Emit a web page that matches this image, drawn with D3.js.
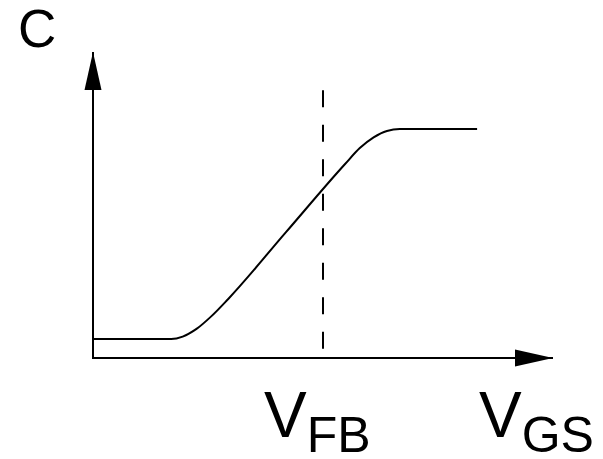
<!DOCTYPE html>
<html>
<head>
<meta charset="utf-8">
<script src="https://cdn.jsdelivr.net/npm/d3@7"></script>
<style>
  body { margin: 0; background: #fff; }
  svg text { font-family: "Liberation Sans", Arial, sans-serif; fill: #000; }
</style>
</head>
<body>
<div id="chart"></div>
<script>
// curve points (arbitrary units)
var vgs = [0, 1.70, 1.95, 2.25, 2.57, 2.94, 4.20, 5.48, 5.80, 6.10, 6.39, 6.67, 8.35];
var cap = [0.62, 0.62, 0.70, 0.95, 1.36, 1.93, 4.12, 6.34, 6.86, 7.21, 7.42, 7.48, 7.48];
var vfb = 5;
var dashRange = [0.3, 8.75];
var yLabel = "C";
var xLabel = ["V", "GS"];
var vfbLabel = ["V", "FB"];

var width = 603, height = 459;

var svg = d3.select("#chart")
  .append("svg")
  .attr("width", width)
  .attr("height", height);

var x = d3.scaleLinear().domain([0, 10]).range([93, 553]);
var y = d3.scaleLinear().domain([0, 10]).range([358, 52]);

// axes with arrow heads
var arrowLen = 38, arrowHalf = 8.5;
svg.append("line")
  .attr("x1", x(0)).attr("y1", y(0) + 1)
  .attr("x2", x(0)).attr("y2", y(10))
  .attr("stroke", "#000").attr("stroke-width", 2);
svg.append("line")
  .attr("x1", x(0) - 1).attr("y1", y(0))
  .attr("x2", x(10)).attr("y2", y(0))
  .attr("stroke", "#000").attr("stroke-width", 2);

svg.append("path")
  .attr("d", "M" + x(0) + "," + y(10) +
    "L" + (x(0) - arrowHalf) + "," + (y(10) + arrowLen) +
    "L" + (x(0) + arrowHalf) + "," + (y(10) + arrowLen) + "Z")
  .attr("fill", "#000");
svg.append("path")
  .attr("d", "M" + x(10) + "," + y(0) +
    "L" + (x(10) - arrowLen) + "," + (y(0) - arrowHalf) +
    "L" + (x(10) - arrowLen) + "," + (y(0) + arrowHalf) + "Z")
  .attr("fill", "#000");

// dashed V_FB line
svg.append("line")
  .attr("x1", x(vfb)).attr("y1", y(dashRange[1]))
  .attr("x2", x(vfb)).attr("y2", y(dashRange[0]))
  .attr("stroke", "#000")
  .attr("stroke-width", 2)
  .attr("stroke-dasharray", "17,17.5");

// C-V curve
var line = d3.line()
  .x(d => x(d[0]))
  .y(d => y(d[1]))
  .curve(d3.curveMonotoneX);

svg.append("path")
  .datum(d3.zip(vgs, cap))
  .attr("d", line)
  .attr("fill", "none")
  .attr("stroke", "#000")
  .attr("stroke-width", 2);

// labels
svg.append("text")
  .attr("x", 18).attr("y", 47)
  .style("font-size", "53px")
  .text(yLabel);

function subLabel(xpos, parts) {
  var t = svg.append("text")
    .attr("x", xpos).attr("y", 437)
    .style("font-size", "64px");
  t.append("tspan").text(parts[0]);
  t.append("tspan")
    .attr("dy", 15)
    .style("font-size", "50px")
    .text(parts[1]);
}
subLabel(264, vfbLabel);
subLabel(479, xLabel);
</script>
</body>
</html>
